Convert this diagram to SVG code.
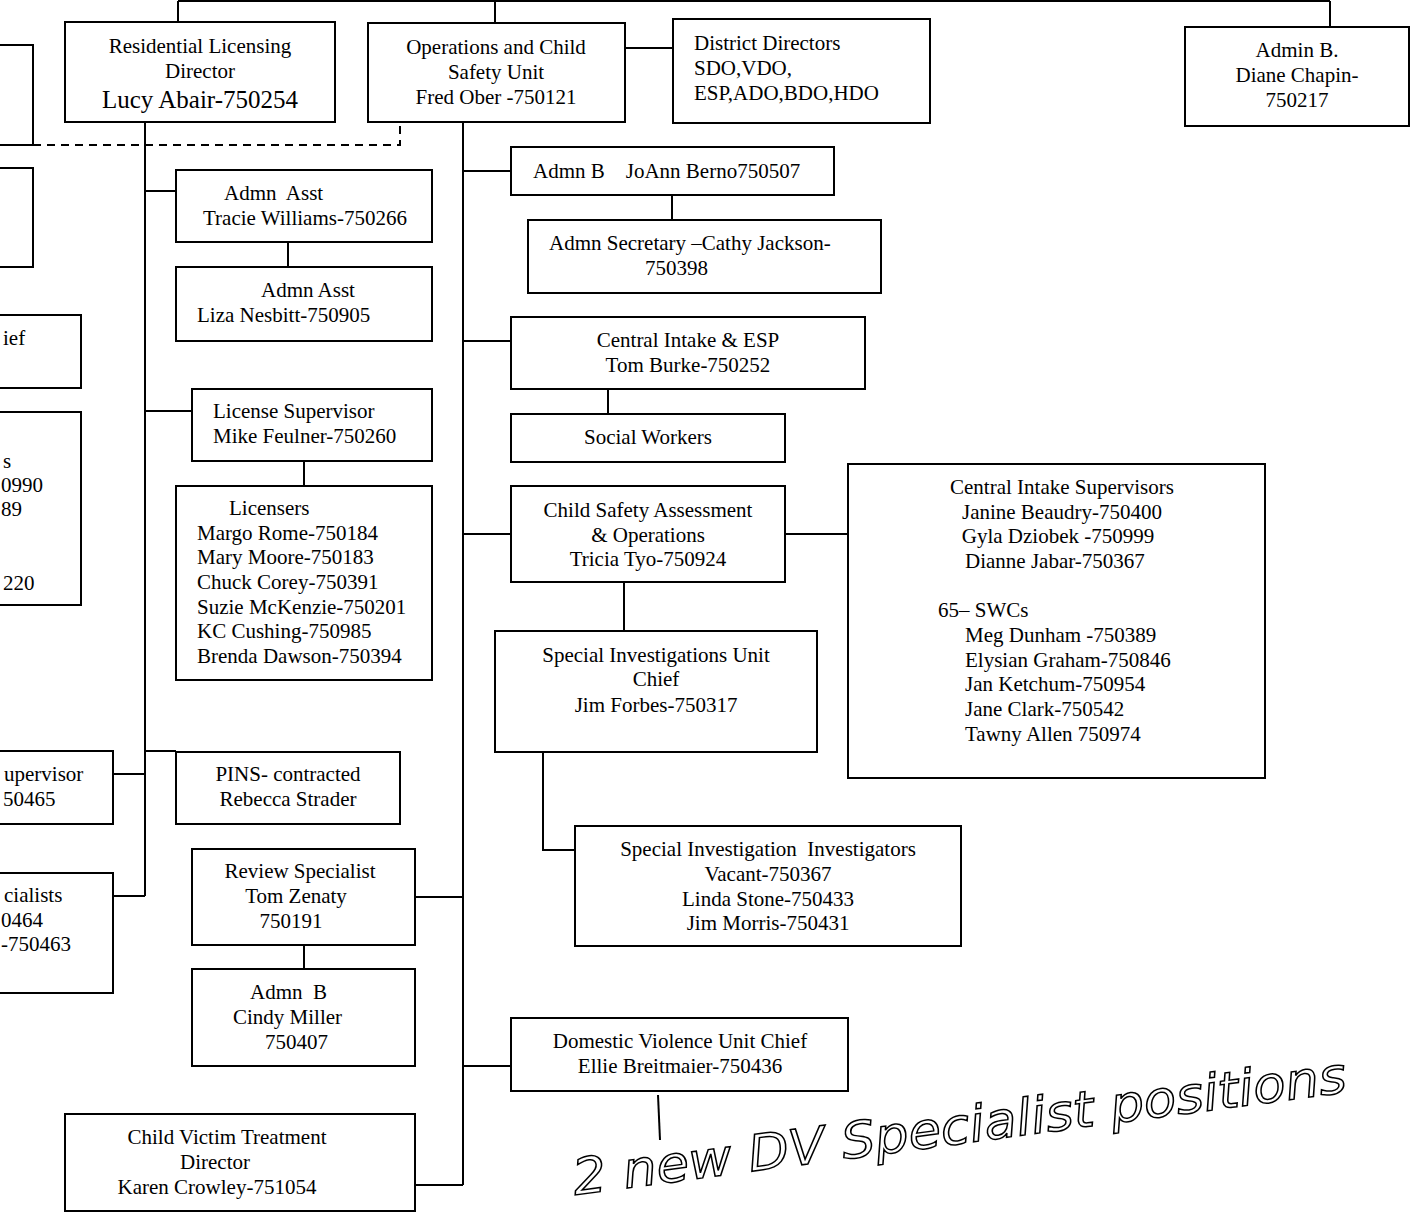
<svg xmlns="http://www.w3.org/2000/svg" width="1410" height="1213" viewBox="0 0 1410 1213">
<style>
.b{fill:#fff;stroke:#000;stroke-width:2}
.c{fill:none;stroke:#000;stroke-width:2}
.d{fill:none;stroke:#000;stroke-width:2;stroke-dasharray:8 6}
text{font-family:"Liberation Serif","Times New Roman",serif;font-size:21px;fill:#000}
.m{text-anchor:middle}
.h{font-family:"DejaVu Sans",sans-serif;font-style:italic;font-size:50px;fill:none;stroke:#000;stroke-width:1.5}
</style>
<rect width="1410" height="1213" fill="#fff"/>
<g id="connectors">
<path class="c" d="M178 1H1330M178 1V22M495 1V23M1330 1V27M625 48H673"/>
<path class="c" d="M0 45H33V145M0 145H33"/>
<path class="d" d="M33 145H400V124"/>
<path class="c" d="M145 122V896M145 191H176M145 411H192M145 751H176M113 774H145M113 896H145"/>
<path class="c" d="M288 242V267M304 461V486M304 945V969M415 897H463M415 1185H463"/>
<path class="c" d="M463 122V1185M463 171H511M463 341H511M463 534H511M463 1066H511"/>
<path class="c" d="M672 195V220M608 389V414M785 534H848M624 582V631M543 752V850H575"/>
<path class="c" d="M658 1095L660 1140" stroke-width="1.5"/>
</g>
<g id="left-fragments">
<path class="c" d="M0 168H33V267H0"/>
<path class="c" d="M0 315H81V388H0"/>
<text x="3" y="345">ief</text>
<path class="c" d="M0 412H81V605H0"/>
<text x="3" y="468">s</text>
<text x="1" y="492">0990</text>
<text x="1" y="516">89</text>
<text x="3" y="590">220</text>
<path class="c" d="M0 751H113V824H0"/>
<text x="4" y="781">upervisor</text>
<text x="3" y="806">50465</text>
<path class="c" d="M0 873H113V993H0"/>
<text x="4" y="902">cialists</text>
<text x="1" y="927">0464</text>
<text x="1" y="951">-750463</text>
</g>
<g id="residential-licensing-director">
<rect class="b" x="65" y="22" width="270" height="100"/>
<text class="m" x="200" y="53">Residential Licensing</text>
<text class="m" x="200" y="78">Director</text>
<text class="m" x="200" y="108" style="font-size:25px">Lucy Abair-750254</text>
</g>
<g id="operations-child-safety">
<rect class="b" x="368" y="23" width="257" height="99"/>
<text class="m" x="496" y="54">Operations and Child</text>
<text class="m" x="496" y="79">Safety Unit</text>
<text class="m" x="496" y="104">Fred Ober -750121</text>
</g>
<g id="district-directors">
<rect class="b" x="673" y="19" width="257" height="104"/>
<text x="694" y="50">District Directors</text>
<text x="694" y="75">SDO,VDO,</text>
<text x="694" y="100">ESP,ADO,BDO,HDO</text>
</g>
<g id="admin-b-diane">
<rect class="b" x="1185" y="27" width="224" height="99"/>
<text class="m" x="1297" y="57">Admin B.</text>
<text class="m" x="1297" y="82">Diane Chapin-</text>
<text class="m" x="1297" y="107">750217</text>
</g>
<g id="admn-asst-tracie">
<rect class="b" x="176" y="170" width="256" height="72"/>
<text x="224" y="200" xml:space="preserve">Admn  Asst</text>
<text x="203" y="225">Tracie Williams-750266</text>
</g>
<g id="admn-asst-liza">
<rect class="b" x="176" y="267" width="256" height="74"/>
<text x="261" y="297">Admn Asst</text>
<text x="197" y="322">Liza Nesbitt-750905</text>
</g>
<g id="license-supervisor">
<rect class="b" x="192" y="389" width="240" height="72"/>
<text x="213" y="418">License Supervisor</text>
<text x="213" y="443">Mike Feulner-750260</text>
</g>
<g id="licensers">
<rect class="b" x="176" y="486" width="256" height="194"/>
<text x="229" y="515">Licensers</text>
<text x="197" y="540">Margo Rome-750184</text>
<text x="197" y="564">Mary Moore-750183</text>
<text x="197" y="589">Chuck Corey-750391</text>
<text x="197" y="614">Suzie McKenzie-750201</text>
<text x="197" y="638">KC Cushing-750985</text>
<text x="197" y="663">Brenda Dawson-750394</text>
</g>
<g id="pins">
<rect class="b" x="176" y="752" width="224" height="72"/>
<text class="m" x="288" y="781">PINS- contracted</text>
<text class="m" x="288" y="806">Rebecca Strader</text>
</g>
<g id="review-specialist">
<rect class="b" x="192" y="849" width="223" height="96"/>
<text class="m" x="300" y="878">Review Specialist</text>
<text class="m" x="296" y="903">Tom Zenaty</text>
<text class="m" x="291" y="928">750191</text>
</g>
<g id="admn-b-cindy">
<rect class="b" x="192" y="969" width="223" height="97"/>
<text x="250" y="999" xml:space="preserve">Admn  B</text>
<text x="233" y="1024">Cindy Miller</text>
<text x="265" y="1049">750407</text>
</g>
<g id="child-victim-treatment">
<rect class="b" x="65" y="1114" width="350" height="97"/>
<text class="m" x="227" y="1144">Child Victim Treatment</text>
<text class="m" x="215" y="1169">Director</text>
<text class="m" x="217" y="1194">Karen Crowley-751054</text>
</g>
<g id="admn-b-joann">
<rect class="b" x="511" y="147" width="323" height="48"/>
<text x="533" y="178" xml:space="preserve">Admn B    JoAnn Berno750507</text>
</g>
<g id="admn-secretary">
<rect class="b" x="528" y="220" width="353" height="73"/>
<text x="549" y="250">Admn Secretary –Cathy Jackson-</text>
<text x="645" y="275">750398</text>
</g>
<g id="central-intake-esp">
<rect class="b" x="511" y="317" width="354" height="72"/>
<text class="m" x="688" y="347">Central Intake &amp; ESP</text>
<text class="m" x="688" y="372">Tom Burke-750252</text>
</g>
<g id="social-workers">
<rect class="b" x="511" y="414" width="274" height="48"/>
<text class="m" x="648" y="444">Social Workers</text>
</g>
<g id="child-safety-assessment">
<rect class="b" x="511" y="486" width="274" height="96"/>
<text class="m" x="648" y="517">Child Safety Assessment</text>
<text class="m" x="648" y="542">&amp; Operations</text>
<text class="m" x="648" y="566">Tricia Tyo-750924</text>
</g>
<g id="central-intake-supervisors">
<rect class="b" x="848" y="464" width="417" height="314"/>
<text class="m" x="1062" y="494">Central Intake Supervisors</text>
<text class="m" x="1062" y="519">Janine Beaudry-750400</text>
<text class="m" x="1058" y="543">Gyla Dziobek -750999</text>
<text x="965" y="568">Dianne Jabar-750367</text>
<text x="938" y="617">65– SWCs</text>
<text x="965" y="642">Meg Dunham -750389</text>
<text x="965" y="667">Elysian Graham-750846</text>
<text x="965" y="691">Jan Ketchum-750954</text>
<text x="965" y="716">Jane Clark-750542</text>
<text x="965" y="741">Tawny Allen 750974</text>
</g>
<g id="special-investigations-chief">
<rect class="b" x="495" y="631" width="322" height="121"/>
<text class="m" x="656" y="662">Special Investigations Unit</text>
<text class="m" x="656" y="686">Chief</text>
<text class="m" x="656" y="712">Jim Forbes-750317</text>
</g>
<g id="special-investigation-investigators">
<rect class="b" x="575" y="826" width="386" height="120"/>
<text class="m" x="768" y="856" xml:space="preserve">Special Investigation  Investigators</text>
<text class="m" x="768" y="881">Vacant-750367</text>
<text class="m" x="768" y="906">Linda Stone-750433</text>
<text class="m" x="768" y="930">Jim Morris-750431</text>
</g>
<g id="domestic-violence">
<rect class="b" x="511" y="1018" width="337" height="73"/>
<text class="m" x="680" y="1048">Domestic Violence Unit Chief</text>
<text class="m" x="680" y="1073">Ellie Breitmaier-750436</text>
</g>
<text class="h" x="575" y="1195" transform="rotate(-7.6 575 1195)" textLength="780" lengthAdjust="spacingAndGlyphs">2 new DV Specialist positions</text>
</svg>
